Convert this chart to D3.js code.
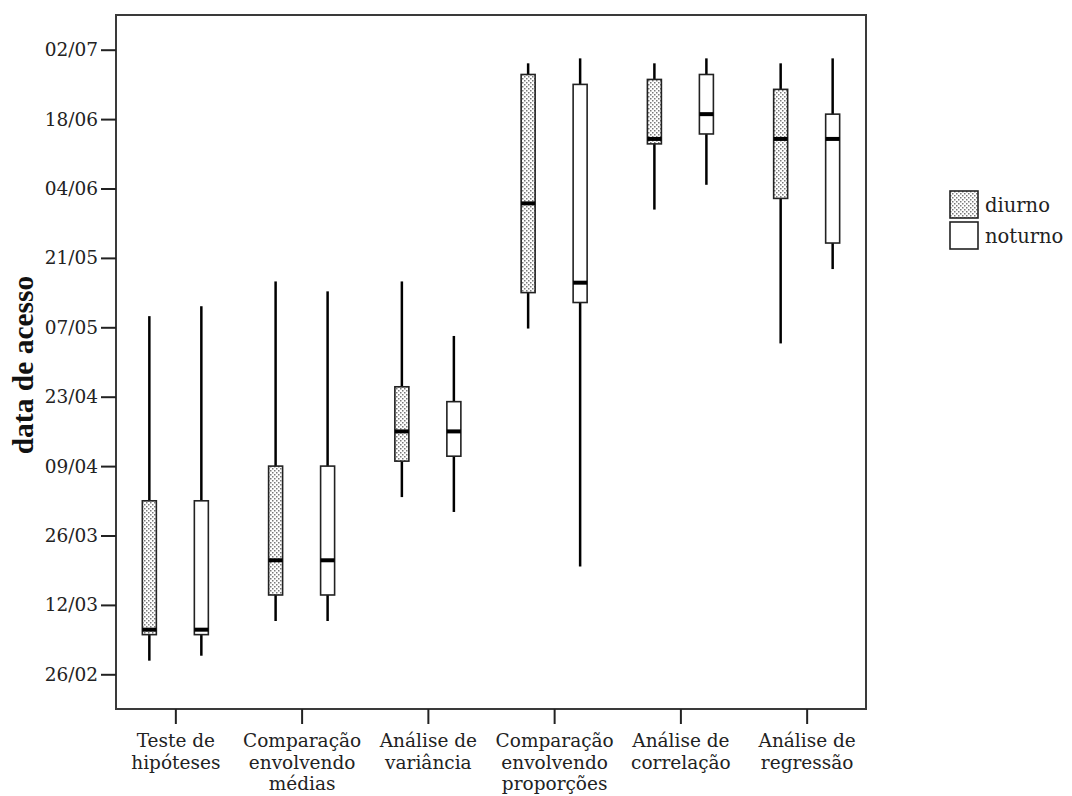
<!DOCTYPE html>
<html>
<head>
<meta charset="utf-8">
<script src="https://cdn.jsdelivr.net/npm/d3@7"></script>
<style>
  html, body { margin: 0; padding: 0; background: #fff; }
  svg { display: block; }
</style>
</head>
<body>
<svg id="chart" width="1072" height="796"></svg>
<script>
// ---------------- data ----------------
const categories = ["Teste de hipóteses", "Comparação envolvendo médias", "Análise de variância",
  "Comparação envolvendo proporções", "Análise de correlação", "Análise de regressão"];
const categoryLines = [["Teste de", "hipóteses"], ["Comparação", "envolvendo", "médias"],
  ["Análise de", "variância"], ["Comparação", "envolvendo", "proporções"],
  ["Análise de", "correlação"], ["Análise de", "regressão"]];
const groups = ["diurno", "noturno"];

const diurnoMin    = ["01/03", "09/03", "03/04", "07/05", "31/05", "04/05"];
const diurnoQ1     = ["06/03", "14/03", "10/04", "14/05", "13/06", "02/06"];
const diurnoMedian = ["07/03", "21/03", "16/04", "01/06", "14/06", "14/06"];
const diurnoQ3     = ["02/04", "09/04", "25/04", "27/06", "26/06", "24/06"];
const diurnoMax    = ["09/05", "16/05", "16/05", "29/06", "29/06", "29/06"];

const noturnoMin    = ["02/03", "09/03", "31/03", "20/03", "05/06", "19/05"];
const noturnoQ1     = ["06/03", "14/03", "11/04", "12/05", "15/06", "24/05"];
const noturnoMedian = ["07/03", "21/03", "16/04", "16/05", "19/06", "14/06"];
const noturnoQ3     = ["02/04", "09/04", "22/04", "25/06", "27/06", "19/06"];
const noturnoMax    = ["11/05", "14/05", "05/05", "30/06", "30/06", "30/06"];

const yTickLabels = ["26/02", "12/03", "26/03", "09/04", "23/04", "07/05", "21/05", "04/06", "18/06", "02/07"];
const yExtent = ["19/02", "09/07"];
const yTitle = "data de acesso";

// ---------------- helpers ----------------
const parse = s => d3.utcParse("%d/%m/%Y")(s + "/2009");
const fmt = d3.utcFormat("%d/%m");

const series = {
  diurno:  { min: diurnoMin, q1: diurnoQ1, med: diurnoMedian, q3: diurnoQ3, max: diurnoMax },
  noturno: { min: noturnoMin, q1: noturnoQ1, med: noturnoMedian, q3: noturnoQ3, max: noturnoMax }
};
const boxes = [];
groups.forEach(g => {
  categories.forEach((c, i) => {
    const s = series[g];
    boxes.push({ cat: c, group: g,
      min: parse(s.min[i]), q1: parse(s.q1[i]), med: parse(s.med[i]),
      q3: parse(s.q3[i]), max: parse(s.max[i]) });
  });
});

// ---------------- layout ----------------
const plot = { left: 116, right: 866, top: 15, bottom: 709 };
const svg = d3.select("#chart");

const defs = svg.append("defs");
const pat = defs.append("pattern").attr("id", "dots")
  .attr("patternUnits", "userSpaceOnUse").attr("width", 4).attr("height", 4);
pat.append("rect").attr("width", 4).attr("height", 4).attr("fill", "#ffffff");
pat.append("rect").attr("x", 0).attr("y", 0).attr("width", 1.5).attr("height", 1.5).attr("fill", "#7a7a7a");
pat.append("rect").attr("x", 2).attr("y", 2).attr("width", 1.5).attr("height", 1.5).attr("fill", "#7a7a7a");

const fills = { diurno: "url(#dots)", noturno: "#ffffff" };

const y = d3.scaleUtc()
  .domain(yExtent.map(parse))
  .range([plot.bottom, plot.top]);

const x = d3.scalePoint()
  .domain(categories)
  .range([plot.left, plot.right])
  .padding(0.47);

const offset = d3.scalePoint().domain(groups).range([-26, 26]);
const boxW = 14;

// frame
svg.append("rect")
  .attr("x", plot.left).attr("y", plot.top)
  .attr("width", plot.right - plot.left).attr("height", plot.bottom - plot.top)
  .attr("fill", "none").attr("stroke", "#3a3a3a").attr("stroke-width", 2);

// y axis
const yAxis = svg.append("g")
  .attr("transform", `translate(${plot.left},0)`)
  .call(d3.axisLeft(y).tickValues(yTickLabels.map(parse)).tickFormat(fmt).tickSize(15).tickPadding(3));
yAxis.select(".domain").remove();
yAxis.selectAll(".tick line").attr("stroke", "#222").attr("stroke-width", 2);
yAxis.selectAll(".tick text")
  .attr("font-family", "'DejaVu Serif'").attr("font-size", 18.5).attr("fill", "#222");

// x axis
const xAxis = svg.append("g")
  .attr("transform", `translate(0,${plot.bottom})`)
  .call(d3.axisBottom(x).tickSize(15).tickFormat(""));
xAxis.select(".domain").remove();
xAxis.selectAll(".tick line").attr("stroke", "#222").attr("stroke-width", 2);
xAxis.selectAll(".tick").each(function(d, i) {
  const t = d3.select(this).append("text")
    .attr("font-family", "'DejaVu Serif'").attr("font-size", 18.5).attr("fill", "#222")
    .attr("text-anchor", "middle");
  categoryLines[i].forEach((line, k) => {
    t.append("tspan").attr("x", 0).attr("y", 38 + k * 21.5).text(line);
  });
});

// y title
svg.append("text")
  .attr("transform", `translate(33,${(plot.top + plot.bottom) / 2 + 3}) rotate(-90)`)
  .attr("text-anchor", "middle")
  .attr("font-family", "'Liberation Serif'").attr("font-weight", "bold").attr("font-size", 29.5)
  .attr("fill", "#111")
  .text(yTitle);

// boxes
const g = svg.append("g");
const bx = d => x(d.cat) + offset(d.group);

g.selectAll(".whisk-lo").data(boxes).join("line")
  .attr("x1", bx).attr("x2", bx)
  .attr("y1", d => y(d.min)).attr("y2", d => y(d.q1))
  .attr("stroke", "#000").attr("stroke-width", 2.5).attr("stroke-linecap", "square");
g.selectAll(".whisk-hi").data(boxes).join("line")
  .attr("x1", bx).attr("x2", bx)
  .attr("y1", d => y(d.q3)).attr("y2", d => y(d.max))
  .attr("stroke", "#000").attr("stroke-width", 2.5).attr("stroke-linecap", "square");

g.selectAll(".box").data(boxes).join("rect")
  .attr("x", d => bx(d) - boxW / 2).attr("width", boxW)
  .attr("y", d => y(d.q3)).attr("height", d => y(d.q1) - y(d.q3))
  .attr("fill", d => fills[d.group])
  .attr("stroke", "#222").attr("stroke-width", 1.6);

g.selectAll(".med").data(boxes).join("line")
  .attr("x1", d => bx(d) - boxW / 2).attr("x2", d => bx(d) + boxW / 2)
  .attr("y1", d => y(d.med)).attr("y2", d => y(d.med))
  .attr("stroke", "#000").attr("stroke-width", 4);

// legend
const legend = svg.append("g").attr("transform", "translate(950,191)");
groups.forEach((grp, i) => {
  const row = legend.append("g").attr("transform", `translate(0,${i * 31})`);
  row.append("rect").attr("width", 28).attr("height", 27)
    .attr("fill", fills[grp]).attr("stroke", "#222").attr("stroke-width", 1.6);
  row.append("text").attr("x", 35).attr("y", 21)
    .attr("font-family", "'DejaVu Serif'").attr("font-size", 19.5).attr("fill", "#222")
    .text(grp);
});
</script>
</body>
</html>
